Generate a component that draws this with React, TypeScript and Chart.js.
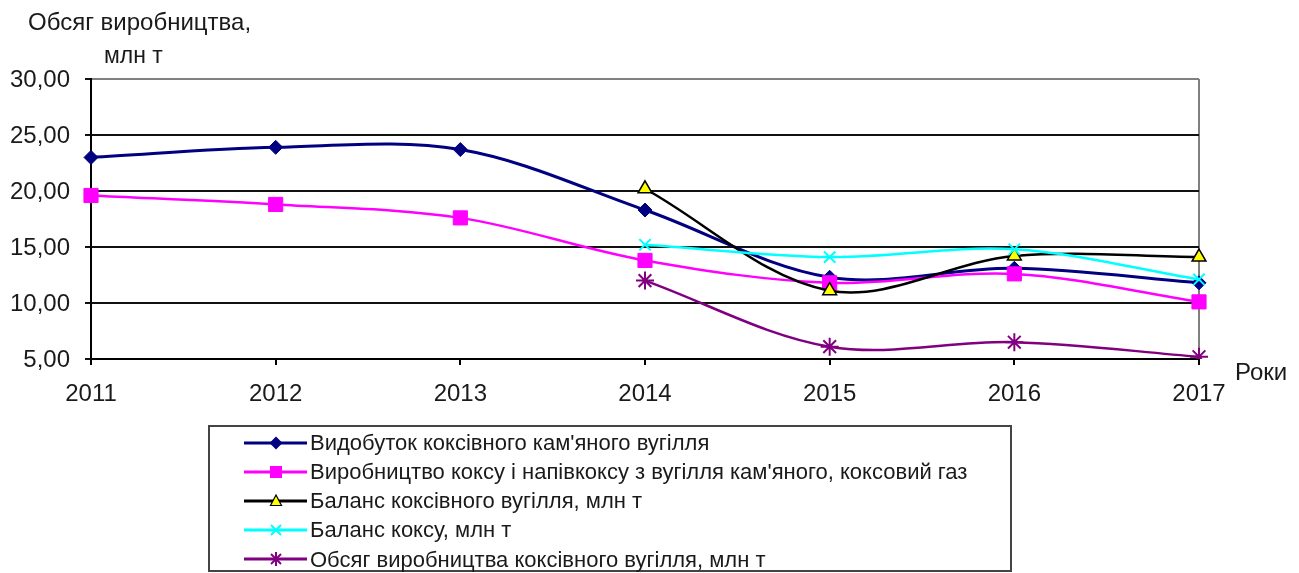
import React, { useEffect, useRef } from "react";
import { Chart, registerables } from "chart.js";

Chart.register(...registerables);

const years = ["2011", "2012", "2013", "2014", "2015", "2016", "2017"];
const cokingCoalMining = [23.0, 23.9, 23.7, 18.3, 12.3, 13.1, 11.8];
const cokeProduction = [19.6, 18.8, 17.6, 13.8, 11.8, 12.6, 10.1];
const cokingCoalBalance = [null, null, null, 20.2, 11.1, 14.2, 14.1];
const cokeBalance = [null, null, null, 15.2, 14.1, 14.8, 12.1];
const cokingCoalOutput = [null, null, null, 12.0, 6.1, 6.5, 5.2];

const seriesNames = [
  "Видобуток коксівного кам'яного вугілля",
  "Виробництво коксу і напівкоксу з вугілля кам'яного, коксовий газ",
  "Баланс коксівного вугілля, млн т",
  "Баланс коксу, млн т",
  "Обсяг виробництва коксівного вугілля, млн т",
];

const yTitleLine1 = "Обсяг виробництва,";
const yTitleLine2 = "млн т";
const xTitle = "Роки";

const FONT = "'Liberation Sans', Arial, sans-serif";
const TEXT = "#1a1a1a";

function LegendMarker({ i }: { i: number }) {
  const colors = ["#000080", "#FF00FF", "#000000", "#00FFFF", "#800080"];
  const c = colors[i];
  let marker: React.ReactNode = null;
  if (i === 0) marker = <polygon points="32,3.5 38.5,10 32,16.5 25.5,10" fill={c} />;
  if (i === 1) marker = <rect x={26} y={4} width={12} height={12} fill={c} />;
  if (i === 2) marker = <polygon points="32,4 37.5,14.5 26.5,14.5" fill="#FFFF00" stroke="#000" strokeWidth={1.2} />;
  if (i === 3)
    marker = (
      <g stroke={c} strokeWidth={2}>
        <line x1={27} y1={5} x2={37} y2={15} />
        <line x1={37} y1={5} x2={27} y2={15} />
      </g>
    );
  if (i === 4)
    marker = (
      <g stroke={c} strokeWidth={2}>
        <line x1={27} y1={5} x2={37} y2={15} />
        <line x1={37} y1={5} x2={27} y2={15} />
        <line x1={32} y1={3} x2={32} y2={17} />
      </g>
    );
  return (
    <svg width={64} height={20} style={{ display: "block" }}>
      <line x1={0} y1={10} x2={63} y2={10} stroke={c} strokeWidth={3} />
      {marker}
    </svg>
  );
}

export default function App() {
  const ref = useRef<HTMLCanvasElement | null>(null);

  useEffect(() => {
    if (!ref.current) return;
    const tickFont = { family: FONT, size: 24 };
    const chart = new Chart(ref.current, {
      type: "line",
      data: {
        labels: years,
        datasets: [
          {
            label: seriesNames[0],
            data: cokingCoalMining,
            borderColor: "#000080",
            backgroundColor: "#000080",
            borderWidth: 3,
            pointStyle: "rectRot",
            pointRadius: 7,
            pointBorderWidth: 1,
            tension: 0.34,
            order: 5,
          },
          {
            label: seriesNames[1],
            data: cokeProduction,
            borderColor: "#FF00FF",
            backgroundColor: "#FF00FF",
            borderWidth: 2.5,
            pointStyle: "rect",
            pointRadius: 10,
            pointBorderWidth: 1,
            tension: 0.34,
            order: 4,
          },
          {
            label: seriesNames[2],
            data: cokingCoalBalance,
            borderColor: "#000000",
            backgroundColor: "#FFFF00",
            pointBorderColor: "#000000",
            borderWidth: 2.5,
            pointStyle: "triangle",
            pointRadius: 8,
            pointBorderWidth: 1.5,
            tension: 0.34,
            order: 3,
          },
          {
            label: seriesNames[3],
            data: cokeBalance,
            borderColor: "#00FFFF",
            backgroundColor: "#00FFFF",
            borderWidth: 2.5,
            pointStyle: "crossRot",
            pointRadius: 8,
            pointBorderWidth: 2,
            tension: 0.34,
            order: 2,
          },
          {
            label: seriesNames[4],
            data: cokingCoalOutput,
            borderColor: "#800080",
            backgroundColor: "#800080",
            borderWidth: 2.5,
            pointStyle: "star",
            pointRadius: 9,
            pointBorderWidth: 2,
            tension: 0.34,
            order: 1,
          },
        ],
      },
      options: {
        responsive: false,
        animation: false,
        layout: { padding: { left: 0, top: 79, right: 100, bottom: 154 } },
        plugins: { legend: { display: false }, tooltip: { enabled: false } },
        scales: {
          x: {
            offset: false,
            grid: {
              drawOnChartArea: true,
              color: (ctx: any) => (ctx.index === 6 ? "#808080" : "rgba(0,0,0,0)"),
              tickColor: "#000",
              tickLength: 6,
              lineWidth: 2,
            },
            border: { display: true, color: "#000", width: 2 },
            ticks: { font: tickFont, color: TEXT, padding: 15, maxRotation: 0, autoSkip: false },
            afterFit: (s: any) => {
              s.height = 60;
            },
          },
          y: {
            min: 5,
            max: 30,
            ticks: {
              stepSize: 5,
              font: tickFont,
              color: TEXT,
              padding: 15,
              labelOffset: 1,
              callback: (v: any) => Number(v).toFixed(2).replace(".", ","),
            },
            grid: {
              color: (ctx: any) => (ctx.tick && ctx.tick.value === 30 ? "#808080" : "#111"),
              tickColor: "#111",
              tickLength: 6,
              lineWidth: 2,
            },
            border: { display: true, color: "#000", width: 2 },
            afterFit: (s: any) => {
              s.width = 91;
            },
          },
        },
      },
    });
    return () => chart.destroy();
  }, []);

  const rowTop = (i: number) => 442.5 + 29.2 * i;

  return (
    <div
      style={{
        position: "fixed",
        left: 0,
        top: 0,
        width: 1299,
        height: 573,
        background: "#fff",
        overflow: "hidden",
        fontFamily: FONT,
        color: TEXT,
      }}
    >
      <canvas ref={ref} width={1299} height={573} style={{ position: "absolute", left: 0, top: 0, width: 1299, height: 573 }} />
      <div style={{ position: "absolute", left: 28, top: 10, fontSize: 24, lineHeight: 1, whiteSpace: "nowrap" }}>{yTitleLine1}</div>
      <div style={{ position: "absolute", left: 104, top: 43.5, fontSize: 23, lineHeight: 1, whiteSpace: "nowrap" }}>{yTitleLine2}</div>
      <div style={{ position: "absolute", left: 1235, top: 360, fontSize: 24, lineHeight: 1, whiteSpace: "nowrap" }}>{xTitle}</div>
      <div
        style={{
          position: "absolute",
          left: 208,
          top: 425,
          width: 804,
          height: 147,
          border: "2px solid #444",
          boxSizing: "border-box",
        }}
      />
      {seriesNames.map((name, i) => (
        <React.Fragment key={name}>
          <div style={{ position: "absolute", left: 244, top: rowTop(i) - 10 }}>
            <LegendMarker i={i} />
          </div>
          <div
            style={{
              position: "absolute",
              left: 310,
              top: rowTop(i) - 10.8,
              fontSize: 22,
              lineHeight: 1,
              whiteSpace: "nowrap",
            }}
          >
            {name}
          </div>
        </React.Fragment>
      ))}
    </div>
  );
}
